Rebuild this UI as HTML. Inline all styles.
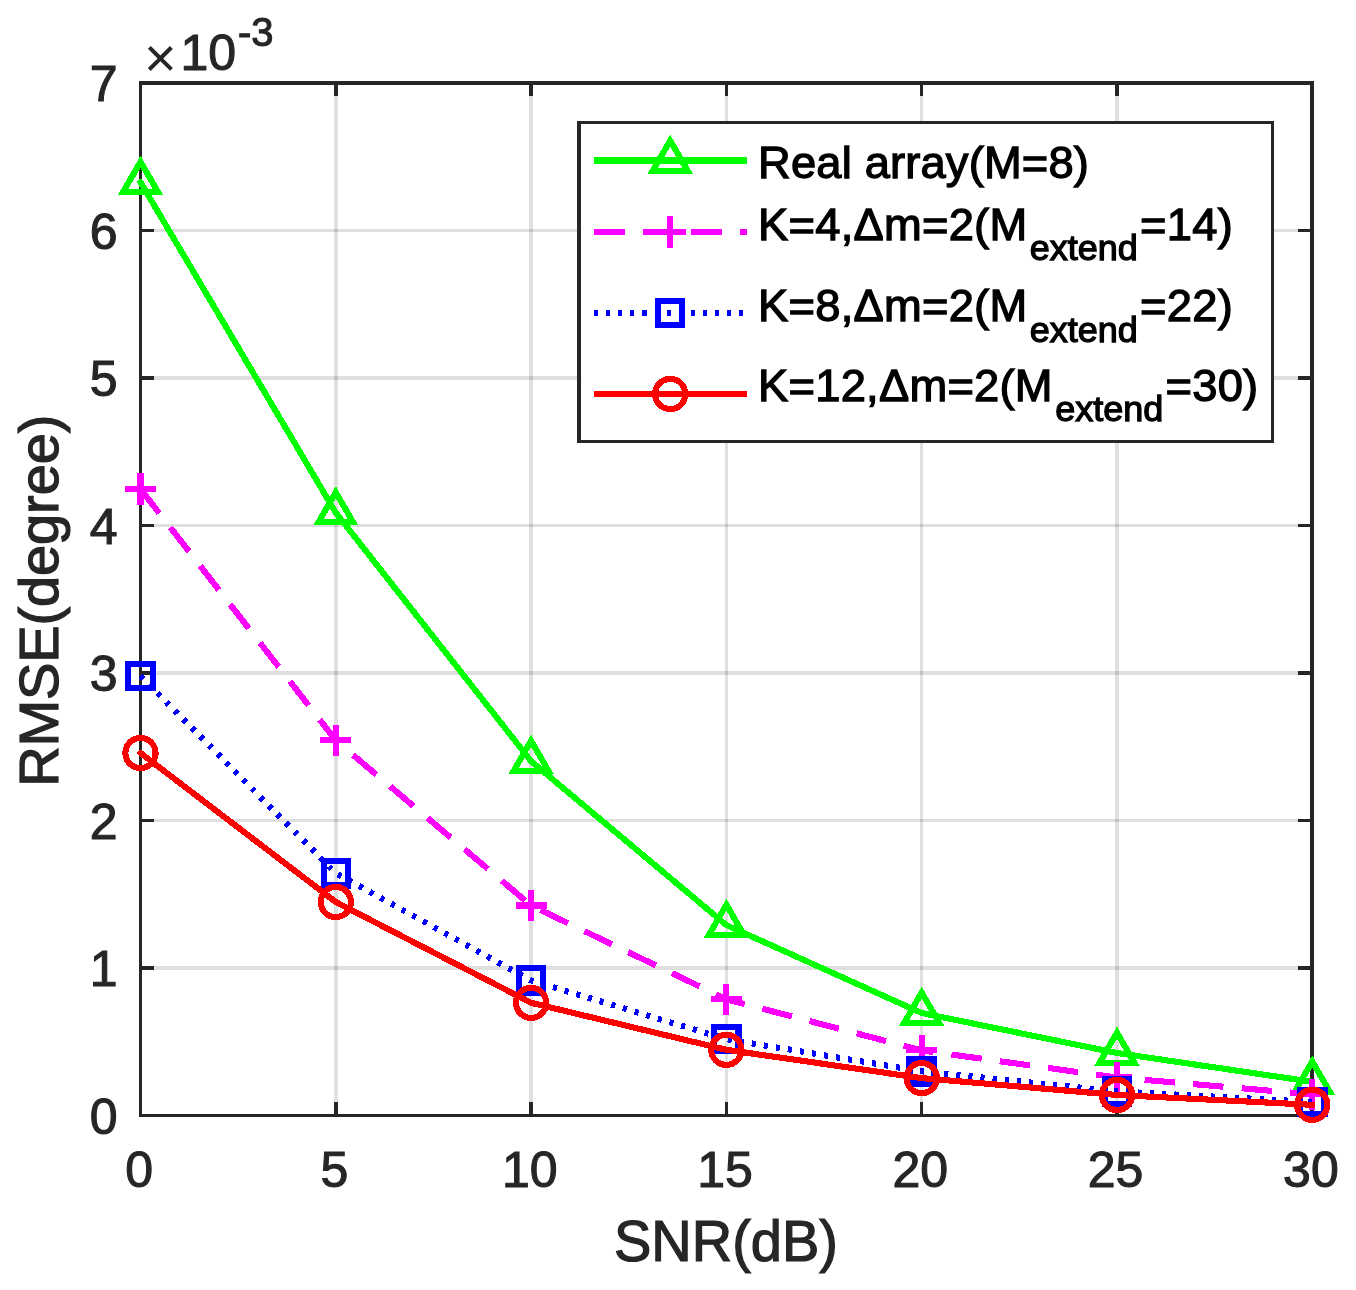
<!DOCTYPE html>
<html lang="en"><head><meta charset="utf-8"><title>RMSE versus SNR</title>
<style>
html,body{margin:0;padding:0;background:#fff;}
body{width:1356px;height:1290px;overflow:hidden;}
svg{display:block;font-family:"Liberation Sans",sans-serif;}
.tk{font-size:50px;fill:#262626;stroke:#262626;stroke-width:1.1px;}
.lb{font-size:56px;fill:#262626;stroke:#262626;stroke-width:1.2px;}
.lg{font-size:45.3px;fill:#000;stroke:#000;stroke-width:1.3px;}
.sub{font-size:36px;}
</style></head><body>
<svg width="1356" height="1290" viewBox="0 0 1356 1290">
<rect width="1356" height="1290" fill="#fff"/>

<g fill="#262626" fill-opacity="0.15" shape-rendering="crispEdges">
<rect x="334" y="85" width="4" height="1029"/>
<rect x="529" y="85" width="4" height="1029"/>
<rect x="725" y="85" width="3" height="1029"/>
<rect x="920" y="85" width="3" height="1029"/>
<rect x="1115" y="85" width="4" height="1029"/>
<rect x="142" y="966" width="1168" height="4"/>
<rect x="142" y="819" width="1168" height="3"/>
<rect x="142" y="671" width="1168" height="4"/>
<rect x="142" y="524" width="1168" height="3"/>
<rect x="142" y="376" width="1168" height="4"/>
<rect x="142" y="229" width="1168" height="3"/>
</g>
<g fill="#262626" shape-rendering="crispEdges">
<rect x="139" y="81" width="3" height="1036"/>
<rect x="1310" y="81" width="4" height="1036"/>
<rect x="139" y="81" width="1175" height="4"/>
<rect x="139" y="1114" width="1175" height="3"/>
<rect x="334" y="85" width="4" height="11"/>
<rect x="334" y="1102" width="4" height="12"/>
<rect x="529" y="85" width="4" height="11"/>
<rect x="529" y="1102" width="4" height="12"/>
<rect x="725" y="85" width="3" height="11"/>
<rect x="725" y="1102" width="3" height="12"/>
<rect x="920" y="85" width="3" height="11"/>
<rect x="920" y="1102" width="3" height="12"/>
<rect x="1115" y="85" width="4" height="11"/>
<rect x="1115" y="1102" width="4" height="12"/>
<rect x="142" y="966" width="12" height="4"/>
<rect x="1298" y="966" width="12" height="4"/>
<rect x="142" y="819" width="12" height="3"/>
<rect x="1298" y="819" width="12" height="3"/>
<rect x="142" y="671" width="12" height="4"/>
<rect x="1298" y="671" width="12" height="4"/>
<rect x="142" y="524" width="12" height="3"/>
<rect x="1298" y="524" width="12" height="3"/>
<rect x="142" y="376" width="12" height="4"/>
<rect x="1298" y="376" width="12" height="4"/>
<rect x="142" y="229" width="12" height="3"/>
<rect x="1298" y="229" width="12" height="3"/>
</g>
<g transform="translate(139.1 1186.8) scale(1 1.0)"><text class="tk" text-anchor="middle" >0</text></g>
<g transform="translate(334.4 1186.8) scale(1 1.0)"><text class="tk" text-anchor="middle" >5</text></g>
<g transform="translate(529.7 1186.8) scale(1 1.0)"><text class="tk" text-anchor="middle" >10</text></g>
<g transform="translate(725.0 1186.8) scale(1 1.0)"><text class="tk" text-anchor="middle" >15</text></g>
<g transform="translate(920.3 1186.8) scale(1 1.0)"><text class="tk" text-anchor="middle" >20</text></g>
<g transform="translate(1115.6 1186.8) scale(1 1.0)"><text class="tk" text-anchor="middle" >25</text></g>
<g transform="translate(1310.9 1186.8) scale(1 1.0)"><text class="tk" text-anchor="middle" >30</text></g>
<g transform="translate(117.5 1133.9) scale(1 1.0)"><text class="tk" text-anchor="end" >0</text></g>
<g transform="translate(117.5 986.4) scale(1 1.0)"><text class="tk" text-anchor="end" >1</text></g>
<g transform="translate(117.5 838.9) scale(1 1.0)"><text class="tk" text-anchor="end" >2</text></g>
<g transform="translate(117.5 691.4) scale(1 1.0)"><text class="tk" text-anchor="end" >3</text></g>
<g transform="translate(117.5 543.9) scale(1 1.0)"><text class="tk" text-anchor="end" >4</text></g>
<g transform="translate(117.5 396.4) scale(1 1.0)"><text class="tk" text-anchor="end" >5</text></g>
<g transform="translate(117.5 248.9) scale(1 1.0)"><text class="tk" text-anchor="end" >6</text></g>
<g transform="translate(117.5 101.4) scale(1 1.0)"><text class="tk" text-anchor="end" >7</text></g>
<g transform="translate(144.0 76.75) scale(1 1.0)"><text class="tk" text-anchor="start" style="font-size:56px;stroke-width:0">×</text></g>
<g transform="translate(180.4 69.6) scale(1 1.0)"><text class="tk" text-anchor="start" >10</text></g>
<g transform="translate(237.9 45.5) scale(1 1.0)"><text class="tk" text-anchor="start" style="font-size:40px">-3</text></g>
<g transform="translate(726 1260.8) scale(1 1.02)"><text class="lb" text-anchor="middle" >SNR(dB)</text></g>
<g transform="translate(58.0 600.8) rotate(-90)"><text class="lb" text-anchor="middle" letter-spacing="-0.12">RMSE(degree)</text></g>
<g shape-rendering="crispEdges">
<polyline points="140.5,182.2 335.8,512.7 531.1,761.2 726.4,925.1 921.7,1013.0 1117.0,1053.0 1312.3,1081.8" fill="none" stroke="#00ff00" stroke-width="6.1" stroke-linejoin="round" stroke-linecap="round"/>
<path d="M123.10 191.90L140.50 161.80L157.90 191.90Z" fill="none" stroke="#00ff00" stroke-width="6.1" stroke-linejoin="miter" stroke-miterlimit="10"/>
<path d="M318.40 522.40L335.80 492.30L353.20 522.40Z" fill="none" stroke="#00ff00" stroke-width="6.1" stroke-linejoin="miter" stroke-miterlimit="10"/>
<path d="M513.70 770.90L531.10 740.80L548.50 770.90Z" fill="none" stroke="#00ff00" stroke-width="6.1" stroke-linejoin="miter" stroke-miterlimit="10"/>
<path d="M709.00 934.80L726.40 904.70L743.80 934.80Z" fill="none" stroke="#00ff00" stroke-width="6.1" stroke-linejoin="miter" stroke-miterlimit="10"/>
<path d="M904.30 1022.70L921.70 992.60L939.10 1022.70Z" fill="none" stroke="#00ff00" stroke-width="6.1" stroke-linejoin="miter" stroke-miterlimit="10"/>
<path d="M1099.60 1062.70L1117.00 1032.60L1134.40 1062.70Z" fill="none" stroke="#00ff00" stroke-width="6.1" stroke-linejoin="miter" stroke-miterlimit="10"/>
<path d="M1294.90 1091.50L1312.30 1061.40L1329.70 1091.50Z" fill="none" stroke="#00ff00" stroke-width="6.1" stroke-linejoin="miter" stroke-miterlimit="10"/>
<polyline points="140.5,489.0 335.8,740.4 531.1,905.5 726.4,999.3 921.7,1050.4 1117.0,1077.5 1312.3,1094.4" fill="none" stroke="#ff00ff" stroke-width="6.1" stroke-linejoin="round" stroke-linecap="butt" stroke-dasharray="30.45 18.25"/>
<path d="M125.10 489.00H155.90M140.50 473.40V504.60" fill="none" stroke="#ff00ff" stroke-width="6.1"/>
<path d="M320.40 740.40H351.20M335.80 724.80V756.00" fill="none" stroke="#ff00ff" stroke-width="6.1"/>
<path d="M515.70 905.50H546.50M531.10 889.90V921.10" fill="none" stroke="#ff00ff" stroke-width="6.1"/>
<path d="M711.00 999.30H741.80M726.40 983.70V1014.90" fill="none" stroke="#ff00ff" stroke-width="6.1"/>
<path d="M906.30 1050.40H937.10M921.70 1034.80V1066.00" fill="none" stroke="#ff00ff" stroke-width="6.1"/>
<path d="M1101.60 1077.50H1132.40M1117.00 1061.90V1093.10" fill="none" stroke="#ff00ff" stroke-width="6.1"/>
<path d="M1296.90 1094.40H1327.70M1312.30 1078.80V1110.00" fill="none" stroke="#ff00ff" stroke-width="6.1"/>
<polyline points="140.5,675.9 335.8,873.3 531.1,980.5 726.4,1039.2 921.7,1071.3 1117.0,1091.4 1312.3,1101.9" fill="none" stroke="#0000ff" stroke-width="6.1" stroke-linejoin="round" stroke-linecap="butt" stroke-dasharray="4.1 8.07"/>
<rect x="128.35" y="663.75" width="24.3" height="24.3" fill="none" stroke="#0000ff" stroke-width="6.1"/>
<rect x="323.65" y="861.15" width="24.3" height="24.3" fill="none" stroke="#0000ff" stroke-width="6.1"/>
<rect x="518.95" y="968.35" width="24.3" height="24.3" fill="none" stroke="#0000ff" stroke-width="6.1"/>
<rect x="714.25" y="1027.05" width="24.3" height="24.3" fill="none" stroke="#0000ff" stroke-width="6.1"/>
<rect x="909.55" y="1059.15" width="24.3" height="24.3" fill="none" stroke="#0000ff" stroke-width="6.1"/>
<rect x="1104.85" y="1079.25" width="24.3" height="24.3" fill="none" stroke="#0000ff" stroke-width="6.1"/>
<rect x="1300.15" y="1089.75" width="24.3" height="24.3" fill="none" stroke="#0000ff" stroke-width="6.1"/>
<polyline points="140.5,753.0 335.8,902.0 531.1,1002.8 726.4,1049.8 921.7,1078.1 1117.0,1095.0 1312.3,1104.8" fill="none" stroke="#ff0000" stroke-width="6.1" stroke-linejoin="round" stroke-linecap="round"/>
<circle cx="140.50" cy="753.00" r="15.1" fill="none" stroke="#ff0000" stroke-width="6.1"/>
<circle cx="335.80" cy="902.00" r="15.1" fill="none" stroke="#ff0000" stroke-width="6.1"/>
<circle cx="531.10" cy="1002.80" r="15.1" fill="none" stroke="#ff0000" stroke-width="6.1"/>
<circle cx="726.40" cy="1049.80" r="15.1" fill="none" stroke="#ff0000" stroke-width="6.1"/>
<circle cx="921.70" cy="1078.10" r="15.1" fill="none" stroke="#ff0000" stroke-width="6.1"/>
<circle cx="1117.00" cy="1095.00" r="15.1" fill="none" stroke="#ff0000" stroke-width="6.1"/>
<circle cx="1312.30" cy="1104.80" r="15.1" fill="none" stroke="#ff0000" stroke-width="6.1"/>
</g>
<g shape-rendering="crispEdges"><rect x="577" y="121" width="697" height="322" fill="#262626"/><rect x="581" y="124" width="690" height="316" fill="#fff"/></g>
<g shape-rendering="crispEdges">
<g fill="none" stroke-width="6.1">
<line x1="594.0" y1="160.5" x2="747.0" y2="160.5" stroke="#00ff00"/>
<line x1="594.0" y1="232.0" x2="747.0" y2="232.0" stroke="#ff00ff" stroke-dasharray="30.8 17.9"/>
<line x1="594.0" y1="313.0" x2="747.0" y2="313.0" stroke="#0000ff" stroke-dasharray="4.1 8.0"/>
<line x1="594.0" y1="394.0" x2="747.0" y2="394.0" stroke="#ff0000"/>
</g>
<path d="M652.80 170.70L670.20 140.60L687.60 170.70Z" fill="none" stroke="#00ff00" stroke-width="6.1" stroke-linejoin="miter" stroke-miterlimit="10"/>
<path d="M654.80 232.00H685.60M670.20 216.40V247.60" fill="none" stroke="#ff00ff" stroke-width="6.1"/>
<rect x="658.05" y="300.85" width="24.3" height="24.3" fill="none" stroke="#0000ff" stroke-width="6.1"/>
<circle cx="670.20" cy="394.00" r="15.1" fill="none" stroke="#ff0000" stroke-width="6.1"/>
</g>
<g transform="translate(758.1 177.5) scale(1 0.975)"><text class="lg" text-anchor="start" letter-spacing="0.17">Real array(M=8)</text></g>
<g transform="translate(758.1 239.5) scale(1 0.975)"><text class="lg" text-anchor="start" letter-spacing="0.25">K=4,Δm=2(M<tspan class="sub" dy="21.1" dx="2.3" letter-spacing="0">extend</tspan><tspan dy="-21.1" dx="2.3">=14)</tspan></text></g>
<g transform="translate(758.1 321.2) scale(1 0.975)"><text class="lg" text-anchor="start" letter-spacing="0.25">K=8,Δm=2(M<tspan class="sub" dy="21.1" dx="2.3" letter-spacing="0">extend</tspan><tspan dy="-21.1" dx="2.3">=22)</tspan></text></g>
<g transform="translate(758.1 400.5) scale(1 0.975)"><text class="lg" text-anchor="start" letter-spacing="0.25">K=12,Δm=2(M<tspan class="sub" dy="21.1" dx="2.3" letter-spacing="0">extend</tspan><tspan dy="-21.1" dx="2.3">=30)</tspan></text></g>
</svg></body></html>
